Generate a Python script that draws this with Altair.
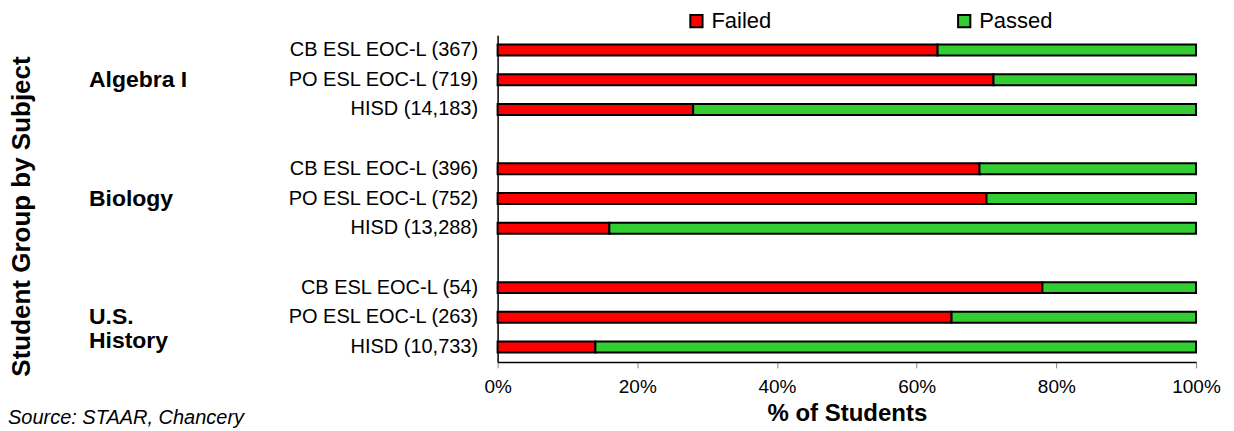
import altair as alt
import pandas as pd

# ---- data ----
row_labels = [
    "CB ESL EOC-L (367)", "PO ESL EOC-L (719)", "HISD (14,183)",
    "CB ESL EOC-L (396)", "PO ESL EOC-L (752)", "HISD (13,288)",
    "CB ESL EOC-L (54)", "PO ESL EOC-L (263)", "HISD (10,733)",
]
failed = [0.63, 0.71, 0.28, 0.69, 0.70, 0.16, 0.78, 0.65, 0.14]
passed = [0.37, 0.29, 0.72, 0.31, 0.30, 0.84, 0.22, 0.35, 0.86]
subjects = ["Algebra I", "Biology", "U.S.\nHistory"]
subject_rows = ["PO ESL EOC-L (719)", "PO ESL EOC-L (752)", "PO ESL EOC-L (263)"]
statuses = ["Failed", "Passed"]
colors = ["#FF0000", "#33CC33"]
x_ticks = [0, 0.2, 0.4, 0.6, 0.8, 1.0]

row_domain = row_labels[0:3] + ["gap1"] + row_labels[3:6] + ["gap2"] + row_labels[6:9]

recs = []
for r, f, p in zip(row_labels, failed, passed):
    recs.append({"row": r, "status": "Failed", "value": f, "ord": 0})
    recs.append({"row": r, "status": "Passed", "value": p, "ord": 1})
df = pd.DataFrame(recs)
sub_df = pd.DataFrame({"row": subject_rows, "subject": subjects})

FONT = "Liberation Sans"
W, H = 699, 327

y_enc = alt.Y(
    "row:N",
    scale=alt.Scale(domain=row_domain, paddingInner=0, paddingOuter=0),
    sort=row_domain,
    axis=alt.Axis(
        title="Student Group by Subject",
        titleFont=FONT, titleFontSize=26, titleFontWeight="bold", titleColor="black",
        titleX=-476, titleY=181, titleAngle=270, titleAlign="center", titleBaseline="middle",
        labelExpr="indexof(datum.label, 'gap') == 0 ? '' : datum.label",
        labelFont=FONT, labelFontSize=20, labelColor="black", labelPadding=20,
        labelLimit=0,
        ticks=False, domainColor="black", domainWidth=1.5, grid=False,
    ),
)

bars = alt.Chart(df).mark_bar(size=11, stroke="black", strokeWidth=2).encode(
    x=alt.X(
        "value:Q", stack="zero",
        scale=alt.Scale(domain=[0, 1], nice=False),
        axis=alt.Axis(
            values=x_ticks, format=".0%", title="% of Students",
            titleFont=FONT, titleFontSize=24, titleFontWeight="bold", titleColor="black",
            titlePadding=5,
            labelFont=FONT, labelFontSize=19, labelColor="black", labelPadding=10,
            labelFlush=False,
            tickSize=6, tickColor="#888888", domainColor="black", domainWidth=1.5, grid=False,
        ),
    ),
    y=y_enc,
    color=alt.Color(
        "status:N",
        scale=alt.Scale(domain=statuses, range=colors),
        legend=alt.Legend(
            title=None, orient="none", direction="horizontal", legendX=188, legendY=-25,
            labelFont=FONT, labelFontSize=22, labelColor="black", labelOffset=4,
            symbolType="square", symbolSize=150, symbolStrokeColor="black",
            symbolStrokeWidth=2, columnPadding=182, padding=0,
        ),
    ),
    order=alt.Order("ord:Q"),
)

subj = alt.Chart(sub_df).mark_text(
    align="left", baseline="middle", font=FONT, fontSize=23, fontWeight="bold",
    color="black", lineBreak="\n", lineHeight=24,
).encode(
    y=alt.Y("row:N", sort=row_domain),
    x=alt.value(-409),
    text="subject:N",
)

source = alt.Chart(pd.DataFrame({"t": ["Source: STAAR, Chancery"]})).mark_text(
    align="left", baseline="middle", font=FONT, fontSize=20, fontStyle="italic", color="black",
).encode(
    x=alt.value(-490), y=alt.value(383), text="t:N",
)

chart = alt.layer(bars, subj, source).properties(
    width=W, height=H,
    autosize=alt.AutoSizeParams(type="none"),
    padding={"left": 490, "top": 27, "right": 30, "bottom": 75},
).configure_view(stroke=None)

chart.save("out.html", embed_options={"renderer": "svg", "actions": False})
